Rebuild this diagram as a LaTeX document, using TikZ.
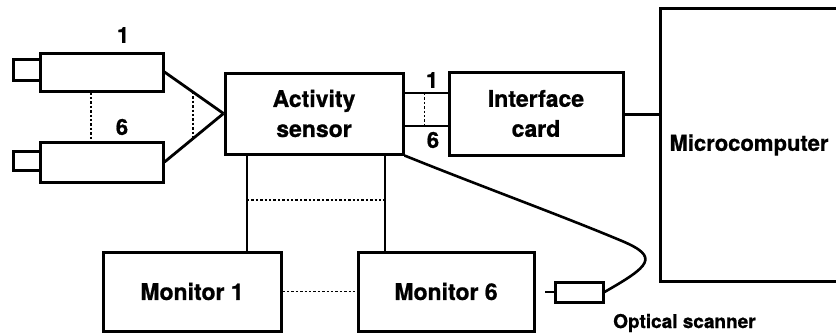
\documentclass[tikz,border=0pt]{standalone}
\usepackage{fontspec}
\setmainfont{TeX Gyre Heros}[BoldFeatures={FakeBold=0.9}]
\usetikzlibrary{calc}
\begin{document}
\begin{tikzpicture}[x=1pt,y=-1pt,
  box/.style={draw,line width=3pt,inner sep=0pt,align=center,
    font=\fontsize{23}{30}\selectfont\bfseries},
  wire/.style={line width=2.8pt},
  dotline/.style={line width=1.8pt,dash pattern=on 2.4pt off 2pt},
  lbl/.style={font=\fontsize{22}{24}\selectfont\bfseries,inner sep=0pt}]
\useasboundingbox (0,0) rectangle (836,333);

% transducer heads with their end caps
\node[box,minimum width=123,minimum height=38] (c1) at (101.5,72) {};
\node[box,minimum width=27,minimum height=21] (k1) at (26.5,69.5) {};
\node[box,minimum width=123,minimum height=40] (c6) at (101.5,162) {};
\node[box,minimum width=27,minimum height=19] (k6) at (26.5,160.5) {};
\node[lbl] (n1) at (123,35) {1};
\node[lbl] (n6) at (122,127) {6};

% main units
\node[box,minimum width=178,minimum height=81] (s) at (314,113.5) {Activity\\sensor};
\node[box,minimum width=174,minimum height=83] (ic) at (536,113.5) {Interface\\card};
\node[box,draw=none,minimum width=174,minimum height=270] (mc) at (749,145)
  {\fontsize{22}{26}\selectfont Microcomputer};
\node[box,minimum width=178,minimum height=79] (m1) at (192,291.5) {Monitor 1};
\node[box,minimum width=176,minimum height=79] (m6) at (446,291.5) {Monitor 6};
\node[box,minimum width=48,minimum height=20] (os) at (579,292) {};
\node[lbl,font=\fontsize{19}{22}\selectfont\bfseries,anchor=west] (osl) at (613,323) {Optical scanner};

% microcomputer outline, open at the right edge
\draw[line width=3pt] (mc.north east) -- (mc.north west) -- (mc.south west) -- (mc.south east);

% heads to sensor
\draw[wire] (c1.east) -- (s.west);
\draw[wire] (c6.east) -- (s.west);
\draw[dotline] ($(c1.east)!0.48!(s.west)$) -- ($(c6.east)!0.48!(s.west)$);
\draw[dotline] ([xshift=-10.5pt]c1.south) -- ([xshift=-10.5pt]c6.north);

% sensor to interface card, channels 1..6
\coordinate (t1) at ($(s.east)+(0,-20.5)$);
\coordinate (t6) at ($(s.east)+(0,12.5)$);
\draw[wire] (t1) -- (t1 -| ic.west);
\draw[wire] (t6) -- (t6 -| ic.west);
\draw[dotline] ($(t1)+(20,0)$) -- ($(t6)+(20,0)$);
\node[lbl] (i1) at (432,80) {1};
\node[lbl] (i6) at (433,140) {6};

% interface card to microcomputer
\draw[wire] ([yshift=-1pt]ic.east) -- ([yshift=-1pt]ic.east -| mc.west);

% sensor to monitors
\coordinate (v1) at (247,0);
\coordinate (v6) at (385,0);
\draw[wire] (v1 |- s.south) -- (v1 |- m1.north);
\draw[wire] (v6 |- s.south) -- (v6 |- m6.north);
\draw[dotline] (247,200) -- (385,200);
\draw[dotline] (m1.east) -- (m6.west);

% optical scanner lead
\coordinate (stub) at (545,292);
\draw[wire] (stub) -- (os.west);
\draw[line width=2.6pt] (s.south east) .. controls (480,186) and (560,215) .. (622,241)
  .. controls (660,257) and (650,266) .. (os.east);
\end{tikzpicture}
\end{document}
